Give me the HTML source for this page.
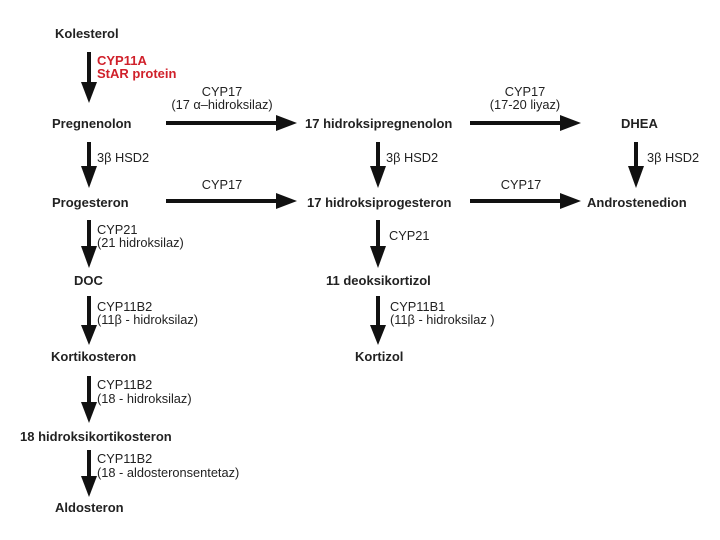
<!DOCTYPE html>
<html><head><meta charset="utf-8"><style>
html,body{margin:0;padding:0;background:#fff;}
svg{display:block;}
text{font-family:"Liberation Sans",Arial,sans-serif;font-size:12.8px;fill:#222;}
.b{font-weight:bold;font-size:13px;}
.r{fill:#d0202a;font-weight:bold;font-size:13px;}
</style></head><body>
<svg width="720" height="540" viewBox="0 0 720 540" xmlns="http://www.w3.org/2000/svg">
<g fill="#111">
<rect x="87" y="52" width="4" height="32"/><polygon points="81,82 97,82 89,103"/>
<rect x="87" y="142" width="4" height="26"/><polygon points="81,166 97,166 89,188"/>
<rect x="87" y="220" width="4" height="28"/><polygon points="81,246 97,246 89,268"/>
<rect x="87" y="296" width="4" height="30"/><polygon points="81,325 97,325 89,345"/>
<rect x="87" y="376" width="4" height="28"/><polygon points="81,402 97,402 89,423"/>
<rect x="87" y="450" width="4" height="28"/><polygon points="81,476 97,476 89,497"/>
<rect x="376" y="142" width="4" height="26"/><polygon points="370,166 386,166 378,188"/>
<rect x="376" y="220" width="4" height="28"/><polygon points="370,246 386,246 378,268"/>
<rect x="376" y="296" width="4" height="30"/><polygon points="370,325 386,325 378,345"/>
<rect x="634" y="142" width="4" height="26"/><polygon points="628,166 644,166 636,188"/>
<rect x="166" y="121" width="112" height="4"/><polygon points="276,115 276,131 297,123"/>
<rect x="470" y="121" width="92" height="4"/><polygon points="560,115 560,131 581,123"/>
<rect x="166" y="199" width="112" height="4"/><polygon points="276,193 276,209 297,201"/>
<rect x="470" y="199" width="92" height="4"/><polygon points="560,193 560,209 581,201"/>
</g>
<text class="b" x="55" y="38">Kolesterol</text>
<text class="r" x="97" y="65">CYP11A</text>
<text class="r" x="97" y="78">StAR protein</text>
<text x="222" y="96" text-anchor="middle">CYP17</text>
<text x="222" y="109" text-anchor="middle">(17 α–hidroksilaz)</text>
<text class="b" x="52" y="128">Pregnenolon</text>
<text class="b" x="305" y="128">17 hidroksipregnenolon</text>
<text x="525" y="96" text-anchor="middle">CYP17</text>
<text x="525" y="109" text-anchor="middle">(17-20 liyaz)</text>
<text class="b" x="621" y="128">DHEA</text>
<text x="97" y="162">3β HSD2</text>
<text x="386" y="162">3β HSD2</text>
<text x="647" y="162">3β HSD2</text>
<text x="222" y="189" text-anchor="middle">CYP17</text>
<text x="521" y="189" text-anchor="middle">CYP17</text>
<text class="b" x="52" y="207">Progesteron</text>
<text class="b" x="307" y="207">17 hidroksiprogesteron</text>
<text class="b" x="587" y="207">Androstenedion</text>
<text x="97" y="234">CYP21</text>
<text x="97" y="247">(21 hidroksilaz)</text>
<text x="389" y="240">CYP21</text>
<text class="b" x="74" y="285">DOC</text>
<text class="b" x="326" y="285">11 deoksikortizol</text>
<text x="97" y="311">CYP11B2</text>
<text x="97" y="324">(11β - hidroksilaz)</text>
<text x="390" y="311">CYP11B1</text>
<text x="390" y="324">(11β - hidroksilaz )</text>
<text class="b" x="51" y="361">Kortikosteron</text>
<text class="b" x="355" y="361">Kortizol</text>
<text x="97" y="389">CYP11B2</text>
<text x="97" y="403">(18 - hidroksilaz)</text>
<text class="b" x="20" y="441">18 hidroksikortikosteron</text>
<text x="97" y="463">CYP11B2</text>
<text x="97" y="477">(18 - aldosteronsentetaz)</text>
<text class="b" x="55" y="512">Aldosteron</text>
</svg>
</body></html>
